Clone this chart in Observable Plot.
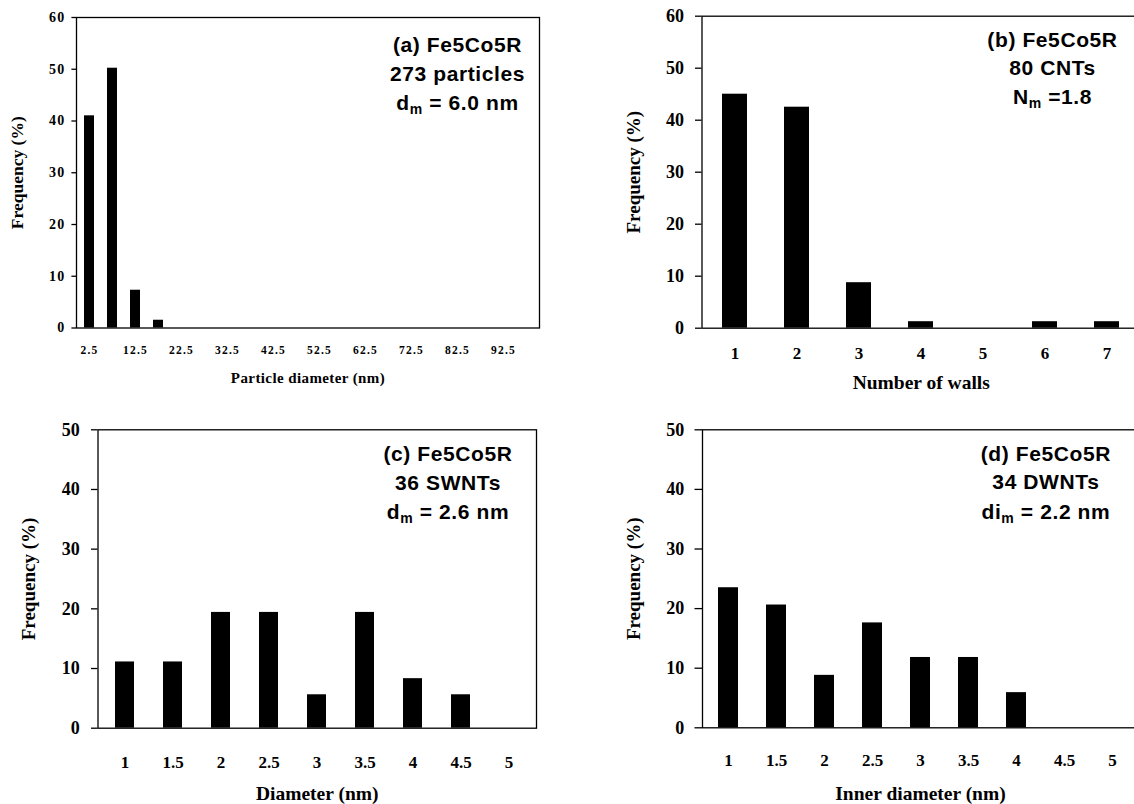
<!DOCTYPE html>
<html><head><meta charset="utf-8">
<script src="https://cdn.jsdelivr.net/npm/d3@7"></script>
<script src="https://cdn.jsdelivr.net/npm/@observablehq/plot@0.6"></script>
<style>
body{margin:0;background:#fff;}
#fig{position:relative;width:1134px;height:804px;overflow:hidden;background:#fff;}
.panel{position:absolute;overflow:visible;}
.panel svg{max-width:none !important;}
</style></head><body><div id="fig"></div>
<script>
// ---------- data ----------
// (a) particle diameter histogram
const catsA = ["2.5","7.5","12.5","17.5","22.5","27.5","32.5","37.5","42.5","47.5","52.5","57.5","62.5","67.5","72.5","77.5","82.5","87.5","92.5","97.5"];
const freqA = [41.0, 50.2, 7.3, 1.5, 0, 0, 0, 0, 0, 0, 0, 0, 0, 0, 0, 0, 0, 0, 0, 0];
const xTicksA = ["2.5","12.5","22.5","32.5","42.5","52.5","62.5","72.5","82.5","92.5"];
const annotA = ["(a) Fe5Co5R", "273 particles", "d_m = 6.0 nm"];

// (b) number of walls
const catsB = ["1","2","3","4","5","6","7"];
const freqB = [45.0, 42.5, 8.75, 1.25, 0, 1.25, 1.25];
const annotB = ["(b) Fe5Co5R", "80 CNTs", "N_m =1.8"];

// (c) SWNT diameter
const catsC = ["1","1.5","2","2.5","3","3.5","4","4.5","5"];
const freqC = [11.1, 11.1, 19.4, 19.4, 5.6, 19.4, 8.3, 5.6, 0];
const annotC = ["(c) Fe5Co5R", "36 SWNTs", "d_m = 2.6 nm"];

// (d) DWNT inner diameter
const catsD = ["1","1.5","2","2.5","3","3.5","4","4.5","5"];
const freqD = [23.5, 20.6, 8.8, 17.6, 11.8, 11.8, 5.9, 0, 0];
const annotD = ["(d) Fe5Co5R", "34 DWNTs", "di_m = 2.2 nm"];

const yTicks60 = [0,10,20,30,40,50,60];
const yTicks50 = [0,10,20,30,40,50];

// ---------- rendering ----------
const SERIF = "'Liberation Serif','Times New Roman',serif";
const SANS = "'Liberation Sans',Arial,sans-serif";
const NS = "http://www.w3.org/2000/svg";

function subscript(t) {
  const s = t.textContent;
  const k = s.indexOf("_");
  const pre = s.slice(0, k), sub = s.slice(k + 1, k + 2), post = s.slice(k + 2);
  t.textContent = "";
  const a = document.createElementNS(NS, "tspan"); a.textContent = pre; t.appendChild(a);
  const b = document.createElementNS(NS, "tspan"); b.textContent = sub; b.setAttribute("font-size", "14"); b.setAttribute("dy", "4"); t.appendChild(b);
  const c = document.createElementNS(NS, "tspan"); c.textContent = post; c.setAttribute("dy", "-4"); t.appendChild(c);
}

function panel(cfg) {
  const data = cfg.cats.map((c, i) => ({cat: c, freq: cfg.freq[i]}));
  const svg = Plot.plot({
    width: cfg.w, height: cfg.h,
    marginLeft: cfg.mL, marginRight: cfg.mR, marginTop: cfg.mT, marginBottom: cfg.mB,
    style: {overflow: "visible", background: "transparent", color: "black", maxWidth: "none"},
    x: {type: "band", domain: cfg.cats, paddingInner: cfg.pad, paddingOuter: cfg.pad / 2, label: null},
    y: {domain: cfg.yDomain, label: null},
    marks: [
      Plot.barY(data, {x: "cat", y: "freq", fill: "black"}),
      Plot.frame({stroke: "black", strokeWidth: 1.3}),
      Plot.axisY({ticks: cfg.yTicks, tickSize: cfg.yTickSize, tickPadding: cfg.yTickPad, fontSize: cfg.yFont,
        fontWeight: "bold", fontFamily: SERIF, strokeWidth: 1.3, label: null}),
      Plot.axisX({ticks: cfg.xTicks, tickSize: 0, tickPadding: cfg.xTickPad, fontSize: cfg.xFont,
        fontWeight: "bold", fontFamily: SERIF, label: null}),
      Plot.text([cfg.xTitle], {text: d => d, frameAnchor: "bottom", dy: cfg.xTitleDy, lineAnchor: "middle",
        fontSize: cfg.xTitleFont, fontWeight: "bold", fontFamily: SERIF}),
      Plot.text(["Frequency (%)"], {text: d => d, frameAnchor: "left", rotate: -90, dx: cfg.yTitleDx,
        textAnchor: "middle", lineAnchor: "middle", fontSize: cfg.yTitleFont, fontWeight: "bold", fontFamily: SERIF}),
      ...cfg.annot.map((line, i) => Plot.text([line], {text: d => d, frameAnchor: "top-left",
        dx: cfg.annotDx, dy: cfg.annotDy[i], textAnchor: "middle", lineAnchor: "bottom",
        fontSize: 21, fontWeight: "bold", fontFamily: SANS}))
    ]
  });
  svg.style.maxWidth = "none";
  svg.style.width = cfg.w + "px";
  svg.style.height = cfg.h + "px";
  const yTickStr = cfg.yTicks.map(String);
  svg.querySelectorAll("text").forEach(t => {
    const s = t.textContent;
    if (cfg.annot.includes(s)) {
      t.style.letterSpacing = "0.6px";
      if (s.includes("_")) subscript(t);
    } else if (s === cfg.xTitle) {
      if (cfg.xTitleLS) t.style.letterSpacing = cfg.xTitleLS;
    } else if (cfg.xTicks.includes(s)) {
      if (cfg.xTickLS) t.style.letterSpacing = cfg.xTickLS;
    } else if (yTickStr.includes(s)) {
      if (cfg.yTickLS) t.style.letterSpacing = cfg.yTickLS;
    }
  });
  const wrap = document.createElement("div");
  wrap.className = "panel";
  wrap.style.left = cfg.left + "px";
  wrap.style.top = cfg.top + "px";
  wrap.style.width = cfg.w + "px";
  wrap.style.height = cfg.h + "px";
  wrap.appendChild(svg);
  document.getElementById("fig").appendChild(wrap);
}

panel({cats: catsA, freq: freqA, xTicks: xTicksA, yTicks: yTicks60, yDomain: [0, 60], annot: annotA,
  xTitle: "Particle diameter (nm)",
  left: 0, top: 0, w: 567, h: 402, mL: 76, mR: 28, mT: 17, mB: 74.5, pad: 0.57,
  yTickSize: 4.6, yTickPad: 6.5, yFont: 14, yTickLS: "1.2px",
  xTickPad: 18.3, xFont: 11.5, xTickLS: "1.2px",
  xTitleDy: 50.2, xTitleFont: 15, xTitleLS: "0.4px", yTitleDx: -59, yTitleFont: 17.5,
  annotDx: 381, annotDy: [34.5, 63.5, 92.5]});

panel({cats: catsB, freq: freqB, xTicks: catsB, yTicks: yTicks60, yDomain: [0, 60], annot: annotB,
  xTitle: "Number of walls",
  left: 567, top: 0, w: 600, h: 402, mL: 134.5, mR: 27, mT: 15.7, mB: 74.3, pad: 0.6,
  yTickSize: 6.5, yTickPad: 11.4, yFont: 18,
  xTickPad: 19.1, xFont: 17,
  xTitleDy: 55, xTitleFont: 19.5, yTitleDx: -68, yTitleFont: 19,
  annotDx: 350.5, annotDy: [30.5, 59, 87.5]});

panel({cats: catsC, freq: freqC, xTicks: catsC, yTicks: yTicks50, yDomain: [0, 50], annot: annotC,
  xTitle: "Diameter (nm)",
  left: 0, top: 402, w: 567, h: 402, mL: 97.5, mR: 31, mT: 27.3, mB: 76.3, pad: 0.6,
  yTickSize: 6.5, yTickPad: 11.7, yFont: 18,
  xTickPad: 27.5, xFont: 17,
  xTitleDy: 65.5, xTitleFont: 19.5, yTitleDx: -69, yTitleFont: 19,
  annotDx: 350, annotDy: [31.4, 60, 89]});

panel({cats: catsD, freq: freqD, xTicks: catsD, yTicks: yTicks50, yDomain: [0, 50], annot: annotD,
  xTitle: "Inner diameter (nm)",
  left: 567, top: 402, w: 600, h: 402, mL: 135, mR: 29, mT: 27.3, mB: 76.7, pad: 0.59,
  yTickSize: 7.5, yTickPad: 10.7, yFont: 18,
  xTickPad: 26.2, xFont: 17,
  xTitleDy: 66, xTitleFont: 19.5, yTitleDx: -68.5, yTitleFont: 19,
  annotDx: 343.4, annotDy: [30.7, 59.2, 88.7]});
</script>
</body></html>
